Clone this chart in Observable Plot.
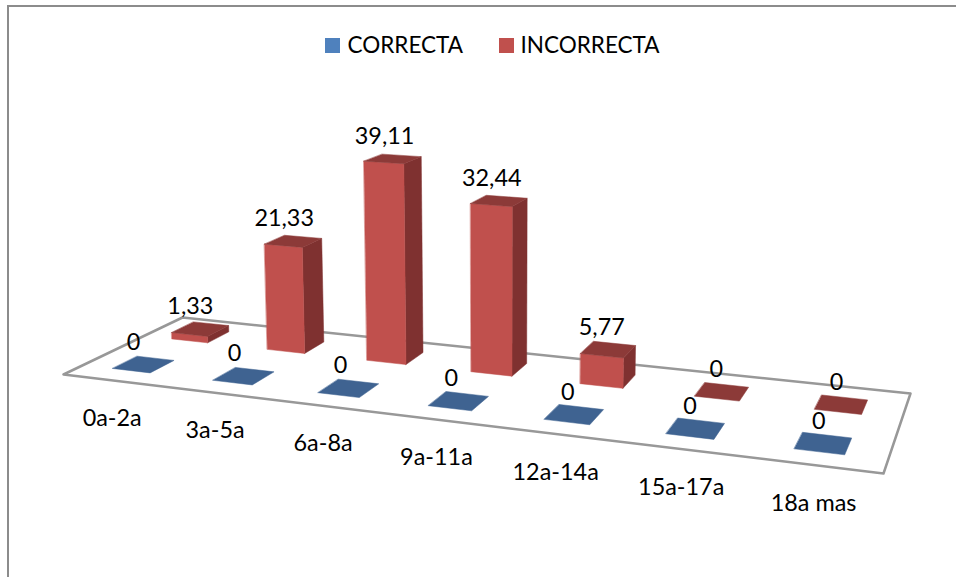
<!DOCTYPE html>
<html>
<head>
<meta charset="utf-8">
<script src="https://cdn.jsdelivr.net/npm/d3@7"></script>
<script src="https://cdn.jsdelivr.net/npm/@observablehq/plot@0.6"></script>
<style>
  html, body { margin: 0; padding: 0; background: #fff; }
  svg { display: block; }
</style>
</head>
<body>
<div id="chart"></div>
<script>
// Age bands and the percentage of answers per band.
const categories = ["0a-2a", "3a-5a", "6a-8a", "9a-11a", "12a-14a", "15a-17a", "18a mas"];
const correcta = [0, 0, 0, 0, 0, 0, 0];
const incorrecta = [1.33, 21.33, 39.11, 32.44, 5.77, 0, 0];
const seriesNames = ["CORRECTA", "INCORRECTA"];

const font = "Lato, Carlito, Calibri, sans-serif";
const labelSize = 23.4;
const legendSize = 22.5;

// Oblique camera: floor corners on screen, and the point verticals converge to.
const floorQuad = [[63, 374], [883, 473], [910, 393], [182, 317]];
const verticalVanish = [500, 9000];
const heightScale = 5.95e-4;

function squareToQuad([[x0, y0], [x1, y1], [x2, y2], [x3, y3]]) {
  const dx1 = x1 - x2, dx2 = x3 - x2, sx = x0 - x1 + x2 - x3;
  const dy1 = y1 - y2, dy2 = y3 - y2, sy = y0 - y1 + y2 - y3;
  const den = dx1 * dy2 - dx2 * dy1;
  const g = (sx * dy2 - dx2 * sy) / den;
  const h = (dx1 * sy - sx * dy1) / den;
  return {a: x1 - x0 + g * x1, b: x3 - x0 + h * x3, c: x0,
          d: y1 - y0 + g * y1, e: y3 - y0 + h * y3, f: y0, g, h};
}
const H = squareToQuad(floorQuad);

// cat: position along the category axis, depth: 0 front to 1 back, value: bar height.
function project(cat, depth, value) {
  const u = cat / categories.length;
  const l = -heightScale * value;
  const X = H.a * u + H.b * depth + H.c + l * verticalVanish[0];
  const Y = H.d * u + H.e * depth + H.f + l * verticalVanish[1];
  const W = H.g * u + H.h * depth + 1 + l;
  return [X / W, Y / W];
}

// Box footprint inside a category cell for each of the two series rows.
const barStart = 0.3, barEnd = 0.68;
const rows = [[0.15, 0.35], [0.65, 0.85]];

function faces(i, row, value) {
  const [v0, v1] = rows[row];
  const u0 = i + barStart, u1 = i + barEnd;
  const id = `${row}-${i}`;
  const poly = pts => pts.map(([c, d, z]) => {
    const [x, y] = project(c, d, z);
    return {id, x, y};
  });
  return {
    top: poly([[u0, v0, value], [u1, v0, value], [u1, v1, value], [u0, v1, value]]),
    front: poly([[u0, v0, 0], [u1, v0, 0], [u1, v0, value], [u0, v0, value]]),
    side: poly([[u1, v0, 0], [u1, v1, 0], [u1, v1, value], [u1, v0, value]])
  };
}

const polyMark = (data, fill) => Plot.line(data, {
  x: "x", y: "y", z: "id", fill, stroke: fill, strokeWidth: 0.5,
  curve: "linear-closed"
});

const floorPts = [[0, 0], [categories.length, 0], [categories.length, 1], [0, 1]]
  .map(([c, d]) => {
    const [x, y] = project(c, d, 0);
    return {id: "floor", x, y};
  });

const palette = {
  blueTop: "#3f6391", blueKey: "#4f81bd",
  redFront: "#c0504d", redSide: "#7f3130", redTop: "#8c3a38",
  frame: "#8c8c8c", floor: "#989898"
};

// The back row is painted first, then the front one, so nearer boxes overlap.
const boxMarks = [];
incorrecta.forEach((v, i) => {
  const f = faces(i, 1, v);
  if (v > 0) boxMarks.push(polyMark(f.side, palette.redSide), polyMark(f.front, palette.redFront));
  boxMarks.push(polyMark(f.top, palette.redTop));
});
correcta.forEach((v, i) => {
  boxMarks.push(polyMark(faces(i, 0, v).top, palette.blueTop));
});

// Value labels sit just above and left of each box's top face.
const valueLabels = [[incorrecta, 1], [correcta, 0]].flatMap(([vals, row]) =>
  vals.map((v, i) => {
    const [x, y] = project(i + 0.5, (rows[row][0] + rows[row][1]) / 2, v);
    return {x: x - 11 + 0.85 * i, y: y - 22.5, text: String(v).replace(".", ",")};
  })
);

const categoryLabels = categories.map((text, i) => {
  const [x, y] = project(i + 0.5, 0, 0);
  return {x: x - 1, y: y + 38, text};
});

const legend = [
  {name: seriesNames[0], x1: 325, x2: 340, tx: 347, fill: palette.blueKey},
  {name: seriesNames[1], x1: 499, x2: 514, tx: 520, fill: palette.redFront}
];

const textOpts = {x: "x", y: "y", text: "text", fontSize: labelSize, fill: "#000"};

const chart = Plot.plot({
  width: 956,
  height: 577,
  margin: 0,
  style: {background: "#fff", fontFamily: font},
  x: {domain: [0, 956], range: [0, 956], axis: null},
  y: {domain: [0, 577], range: [0, 577], axis: null},
  marks: [
    Plot.ruleY([5.5], {x1: 7, x2: 956, stroke: palette.frame, strokeWidth: 2}),
    Plot.ruleX([7.5], {y1: 5, y2: 577, stroke: palette.frame, strokeWidth: 2}),
    Plot.line(floorPts, {x: "x", y: "y", z: "id", fill: "#fff", stroke: palette.floor,
      strokeWidth: 2.5, curve: "linear-closed"}),
    ...boxMarks,
    Plot.text(categoryLabels, textOpts),
    Plot.text(valueLabels, textOpts),
    Plot.rect(legend, {x1: "x1", x2: "x2", y1: () => 38, y2: () => 53, fill: "fill"}),
    Plot.text(legend, {x: "tx", y: () => 45.5, text: "name", textAnchor: "start",
      fontSize: legendSize, fill: "#000"})
  ]
});
document.getElementById("chart").append(chart);
</script>
</body>
</html>
